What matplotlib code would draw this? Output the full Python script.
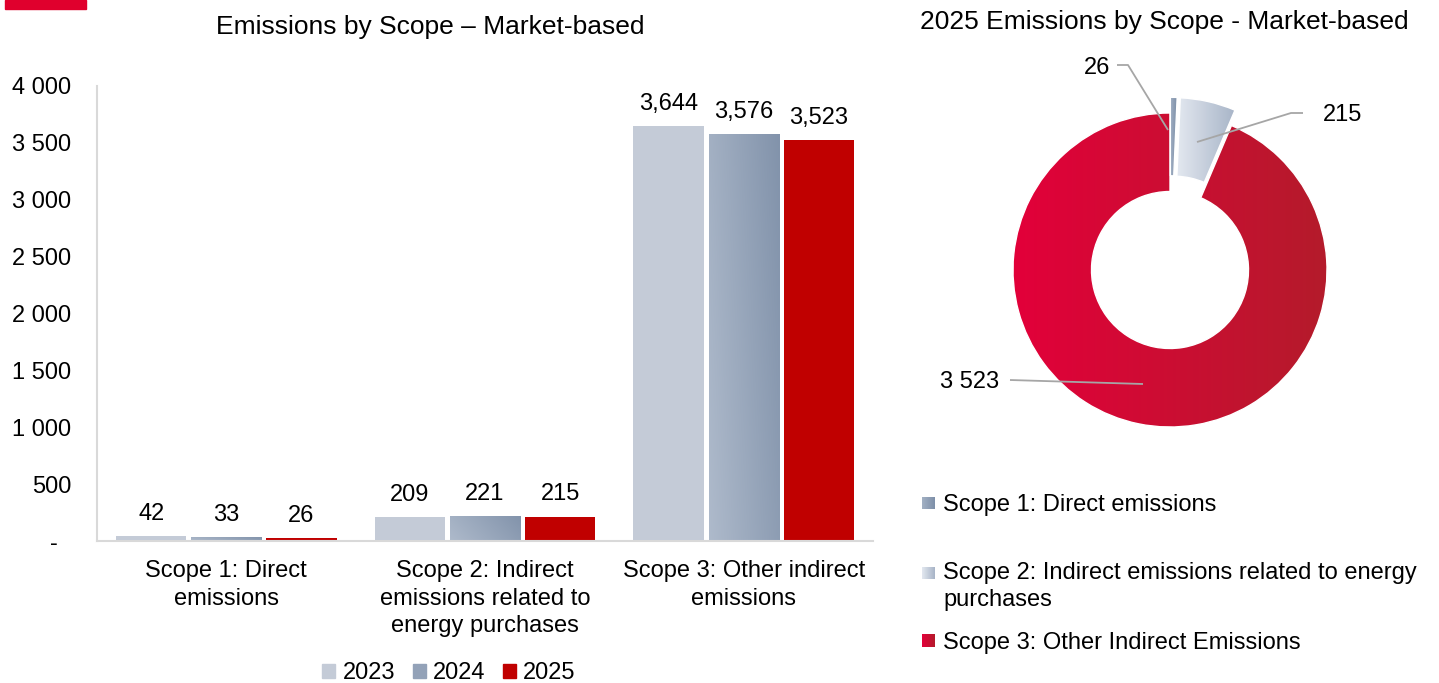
import numpy as np
import matplotlib
matplotlib.use("Agg")
import matplotlib.pyplot as plt
from matplotlib.colors import LinearSegmentedColormap
from matplotlib.patches import Rectangle, Patch

plt.rcParams['font.family'] = ['Liberation Sans', 'DejaVu Sans']

# ---- data -------------------------------------------------------------
scopes = ["Scope 1: Direct\nemissions",
          "Scope 2: Indirect\nemissions related to\nenergy purchases",
          "Scope 3: Other indirect\nemissions"]
years = ["2023", "2024", "2025"]
v2023 = [42, 209, 3644]
v2024 = [33, 221, 3576]
v2025 = [26, 215, 3523]
yticks = [0, 500, 1000, 1500, 2000, 2500, 3000, 3500, 4000]

donut_labels = ["Scope 1: Direct emissions",
                "Scope 2: Indirect emissions related to energy\npurchases",
                "Scope 3: Other Indirect Emissions"]
donut_values = [26, 215, 3523]
donut_text = ["26", "215", "3 523"]

# ---- figure -----------------------------------------------------------
W, H = 1439, 683
fig = plt.figure(figsize=(W / 100, H / 100), dpi=100)
FS = 17


def fx(px):
    return px / W


def fy(py):
    return 1 - py / H


def cmap(c0, c1):
    return LinearSegmentedColormap.from_list("g", [c0, c1])


# accent strip
fig.patches.append(Rectangle((fx(5), fy(9)), fx(81), 9 / H,
                             transform=fig.transFigure, color="#E0002D"))

# ---- grouped bar chart -----------------------------------------------
ax = fig.add_axes([fx(97), fy(541), fx(873) - fx(97), (541 - 86) / H])
x = np.arange(len(scopes))
width = 70 / 258
off = 75 / 258

b23 = ax.bar(x - off, v2023, width, color="#C4CBD7", zorder=2)
b24 = ax.bar(x, v2024, width, color="#8E9DB4", zorder=2)
b25 = ax.bar(x + off, v2025, width, color="#C00000", zorder=2)

# diagonal shading on the 2024 bars
n = 64
u, v = np.meshgrid(np.linspace(0, 1, n), np.linspace(0, 1, n))
diag = (0.75 * u + 0.25 * v)
for rect in b24:
    x0, w, h = rect.get_x(), rect.get_width(), rect.get_height()
    im = ax.imshow(diag, extent=(x0, x0 + w, 0, h), origin="lower",
                   cmap=cmap("#AEBACB", "#8293AB"), aspect="auto", zorder=2.1)
    im.set_clip_path(rect)

for bars, vals in ((b23, v2023), (b24, v2024), (b25, v2025)):
    ax.bar_label(bars, labels=[f"{val:,}" for val in vals], padding=8,
                 fontsize=FS, color="black")

ax.set_xlim(-0.5, 2.5)
ax.set_ylim(0, 4000)
ax.set_yticks(yticks)
ax.set_yticklabels(["-  "] + [f"{t:,}".replace(",", " ") for t in yticks[1:]],
                   fontsize=FS)
ax.set_xticks(x)
ax.set_xticklabels(scopes, fontsize=FS, linespacing=1.3)
ax.tick_params(axis="both", length=0)
ax.tick_params(axis="y", pad=18.7)
ax.tick_params(axis="x", pad=14)
for s in ("top", "right"):
    ax.spines[s].set_visible(False)
for s in ("left", "bottom"):
    ax.spines[s].set_color("#D9D9D9")
    ax.spines[s].set_linewidth(1.5)

fig.text(fx(430), fy(27), "Emissions by Scope \u2013 Market-based",
         ha="center", va="center", fontsize=19)

fig.legend(handles=[Patch(color="#C4CBD7"), Patch(color="#93A2B8"),
                    Patch(color="#C00000")],
           labels=years, loc="center", bbox_to_anchor=(fx(449), fy(673)),
           ncol=3, frameon=False, fontsize=FS, handlelength=0.55,
           handleheight=0.55, handletextpad=0.3, columnspacing=0.75,
           borderpad=0)

# ---- donut ------------------------------------------------------------
R = 157
cx, cy = 1170, 270
pax = fig.add_axes([fx(cx - 1.7 * R), fy(cy + 1.5 * R), 3.4 * R / W, 3.0 * R / H])
wedges, _ = pax.pie(donut_values, radius=1, startangle=90, counterclock=False,
                    explode=[0.1, 0.1, 0.0],
                    wedgeprops=dict(width=0.5, edgecolor="white", linewidth=1))
shades = [("#A3B1C4", "#7D8FA8"), ("#E3E8F0", "#A7B4C7"), ("#E3003A", "#B41B2B")]
grad = np.linspace(0, 1, 256).reshape(1, -1)
for wdg, (c0, c1) in zip(wedges, shades):
    bb = wdg.get_path().get_extents()
    im = pax.imshow(grad, extent=(bb.x0, bb.x1, bb.y0, bb.y1), origin="lower",
                    cmap=cmap(c0, c1), aspect="auto", zorder=2)
    im.set_clip_path(wdg)
    wdg.set_facecolor("none")
    wdg.set_zorder(3)
pax.set_xlim(-1.7, 1.7)
pax.set_ylim(-1.5, 1.5)
pax.set_aspect("equal")
pax.axis("off")


def P(px, py):
    return (px - cx) / R, (cy - py) / R


leaders = [
    ([(1117, 65), (1128, 65), (1168, 130)], (1097, 68)),
    ([(1303, 113), (1291, 113), (1197, 142)], (1343, 115)),
    ([(1010, 380), (1143, 384)], (970, 382)),
]
for txt, (pts, tpos) in zip(donut_text, leaders):
    xs, ys = zip(*[P(*p) for p in pts])
    pax.plot(xs, ys, color="#A6A6A6", lw=1.3, zorder=5, solid_capstyle="butt")
    pax.text(*P(*tpos), txt, ha="center", va="center", fontsize=FS, zorder=6)

fig.text(fx(1164), fy(22), "2025 Emissions by Scope - Market-based",
         ha="center", va="center", fontsize=19)

# ---- donut legend -----------------------------------------------------
marker_y = [503, 573, 640]
for lab, (c0, c1), my in zip(donut_labels, shades, marker_y):
    box = fig.add_axes([fx(922), fy(my + 6.5), 13 / W, 13 / H])
    box.imshow(np.tile(grad, (8, 1)), cmap=cmap(c0, c1), aspect="auto",
               extent=(0, 1, 0, 1))
    box.set_xlim(0, 1)
    box.set_ylim(0, 1)
    box.axis("off")
    if "\n" in lab:
        fig.text(fx(943), fy(my - 11), lab, ha="left", va="top",
                 fontsize=FS, linespacing=1.3)
    else:
        fig.text(fx(943), fy(my), lab, ha="left", va="center_baseline",
                 fontsize=FS)

fig.savefig("out.png", dpi=100)
